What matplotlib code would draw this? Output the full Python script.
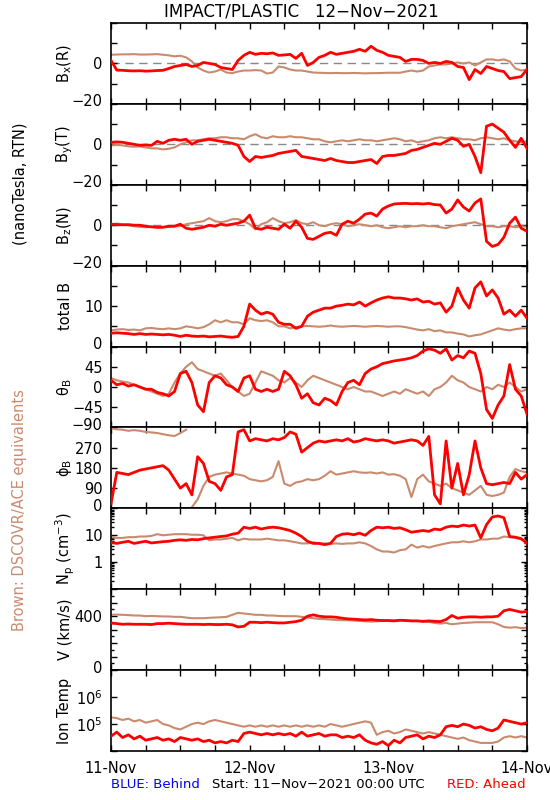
import numpy as np
import matplotlib
matplotlib.use("Agg")
import matplotlib.pyplot as plt
from matplotlib.ticker import FixedLocator, FixedFormatter, MultipleLocator, LogLocator, NullLocator
import matplotlib.transforms as mtransforms

plt.rcParams['font.family'] = ['DejaVu Sans']
plt.rcParams['mathtext.default'] = 'regular'

# ---------------- data (hourly, 11-Nov-2021 00:00 .. 14-Nov-2021 00:00) ----------------
hours = list(range(73))
day_labels = ["11-Nov", "12-Nov", "13-Nov", "14-Nov"]

bx_red = [1.5, -3.3, -3.4, -3.6, -3.7, -3.6, -3.8, -3.7, -3.5, -3.4,
          -2.5, -1.5, -1.0, -0.5, -1.5, -1.0, 0.5, 0.0, -0.5, -2.0,
          -2.5, -3.0, 1.5, 4.0, 5.5, 4.5, 5.0, 4.8, 5.2, 4.0,
          4.2, 4.5, 2.5, 5.0, -1.0, 0.5, 3.0, 4.0, 5.5, 4.5,
          5.0, 5.5, 6.0, 7.0, 6.0, 8.5, 6.5, 5.5, 4.0, 3.5,
          3.0, 1.0, 2.0, 2.0, 1.5, 0.0, 0.5, 0.0, 1.0, 0.5,
          -1.5, -2.0, -8.0, -3.0, -5.0, -1.5, -2.5, -3.5, -4.0, -7.5,
          -7.0, -6.5, -3.0]
bx_brown = [4.3, 4.4, 4.5, 4.5, 4.6, 4.4, 4.4, 4.5, 4.6, 4.3,
            4.0, 3.5, 3.8, 3.0, 1.0, -2.0, -3.5, -4.5, -4.0, -3.0,
            -4.5, -4.8, -4.0, -3.5, -3.5, -3.3, -3.5, -5.0, -4.5, -1.5,
            -2.0, -3.0, -3.5, -3.5, -4.0, -4.5, -4.6, -4.7, -4.8, -4.7,
            -4.8, -4.8, -4.7, -4.8, -4.9, -4.8, -4.8, -4.7, -4.6, -4.6,
            -4.6, -4.0, -3.5, -4.0, -3.5, -1.5, -1.0, -0.5, -0.5, 0.0,
            0.5, 0.0, 0.5, -1.0, 0.5, 2.0, 2.0, 1.5, 2.0, 1.0,
            -2.5, -3.5, -3.0]

by_red = [1.0, 1.2, 1.0, 0.5, 0.0, -0.5, -0.3, -0.5, 1.5, 0.5,
          2.0, 2.5, 2.0, 2.5, 0.0, 1.5, 2.0, 2.5, 2.0, 1.5,
          1.0, 0.5, -0.5, -6.0, -8.5, -6.0, -6.5, -6.0, -5.5, -4.5,
          -4.0, -3.5, -3.0, -6.0, -6.5, -7.0, -7.5, -8.0, -7.0, -8.0,
          -8.5, -9.0, -9.0, -8.5, -8.0, -7.5, -9.5, -6.0, -5.5, -5.5,
          -5.0, -4.5, -3.0, -2.5, -1.5, -0.5, 0.5, 0.0, 1.5, 3.0,
          2.0, -1.0, 0.0, -6.0, -14.0, 9.0, 10.0, 8.0, 6.0, 2.0,
          -1.5, 3.0, -2.0]
by_brown = [-0.5, -0.3, -0.5, -1.0, -1.2, -1.0, -1.5, -2.0, -2.0, -2.5,
            -2.2, -1.5, 0.0, 1.0, 2.0, 2.0, 2.5, 3.0, 3.0, 3.5,
            3.5, 3.0, 3.0, 2.5, 4.0, 5.0, 3.5, 3.0, 4.0, 3.5,
            3.5, 4.0, 3.5, 3.5, 3.0, 2.5, 2.5, 1.5, 1.0, 1.5,
            2.0, 1.5, 2.0, 2.5, 2.0, 2.0, 1.5, 2.0, 2.5, 3.0,
            2.5, 1.5, 2.0, 1.0, 1.5, 2.0, 3.0, 3.5, 3.0, 3.5,
            3.0, 2.5, 2.5, 2.0, 3.0, 3.5, 3.0, 2.5, 3.0, 2.0,
            1.5, 1.0, 1.5]

bz_red = [0.5, 0.3, 0.2, 0.3, 0.0, 0.0, -0.5, -0.8, -1.0, -1.0,
          -0.5, -0.5, 0.5, -1.5, -2.0, -1.5, -1.0, 0.0, -0.5, 0.5,
          0.0, 0.5, 1.0, 2.0, 5.0, -1.5, -2.0, -1.0, -1.5, -2.0,
          0.5, -1.5, 2.0, -1.0, -6.5, -7.0, -5.5, -4.0, -3.5, -5.0,
          0.5, 2.0, 1.0, 3.0, 5.5, 6.0, 4.5, 8.0, 9.5, 10.5,
          10.7, 10.8, 10.6, 10.7, 10.5, 10.8, 10.2, 10.0, 6.0, 8.0,
          12.5, 9.0, 7.0, 11.0, 13.0, -8.0, -10.5, -9.5, -6.0, 1.0,
          4.0, -1.5, -3.0]
bz_brown = [0.5, 0.8, 0.5, 0.0, -0.5, -0.8, -1.0, -0.8, -1.2, -1.0,
            -0.8, -0.5, -0.5, 0.5, 1.0, 1.5, 2.0, 3.5, 2.0, 1.5,
            2.0, 3.0, 3.0, 2.0, 0.5, -2.0, 0.5, 1.5, 3.5, 2.0,
            1.0, 1.5, 2.5, 1.0, 0.5, 1.5, 0.0, -0.5, 0.5, 1.0,
            0.5, -0.5, 0.0, 0.5, 0.0, -0.5, 0.0, -1.0, -1.5, -1.0,
            -0.5, -1.0, -0.5, -0.5, 0.0, -0.5, -0.5, -1.0, -1.5, -0.5,
            0.0, 0.5, 1.0, 1.5, 0.5, -0.5, -0.5, -1.0, -0.5, -0.5,
            -1.0, -0.5, -0.8]

bt_red = [3.3, 3.4, 3.3, 3.2, 3.0, 3.2, 3.0, 3.1, 3.0, 2.9,
          3.0, 2.8, 2.5, 2.8, 2.6, 2.5, 2.6, 2.4, 2.5, 2.6,
          2.4, 2.3, 2.5, 5.0, 10.5, 9.0, 8.0, 8.5, 8.0, 6.0,
          5.5, 5.5, 4.5, 5.0, 7.5, 8.5, 9.0, 9.5, 9.5, 10.0,
          10.2, 10.5, 10.3, 11.0, 10.0, 10.8, 11.5, 12.0, 12.3, 12.0,
          12.0, 11.8, 11.5, 11.8, 11.0, 11.2, 10.5, 10.8, 8.5, 10.0,
          14.5, 11.5, 9.5, 14.5, 16.0, 12.5, 14.0, 12.0, 8.0, 9.0,
          7.5, 9.0, 7.0]
bt_brown = [4.0, 4.2, 4.3, 4.1, 4.2, 4.0, 4.5, 4.6, 4.4, 4.3,
            4.5, 4.3, 4.5, 5.0, 4.8, 4.5, 4.8, 5.5, 6.5, 6.0,
            6.5, 6.0, 6.0, 5.5, 7.0, 6.5, 6.3, 6.5, 6.0, 5.0,
            5.0, 4.5, 4.8, 5.0, 5.1, 5.0, 4.9, 5.0, 5.2, 5.0,
            4.9, 5.0, 5.1, 5.0, 4.9, 5.0, 5.1, 5.0, 4.9, 5.0,
            5.0, 4.8, 4.5, 4.2, 4.0, 4.3, 3.8, 4.0, 3.5, 3.5,
            3.2, 3.0, 2.5, 2.8, 3.0, 3.5, 4.0, 4.5, 4.2, 4.0,
            4.3, 4.5, 4.5]

theta_red = [15, 5, 8, 2, 5, 0, -5, -5, -12, -15,
             -20, -10, 30, 35, 10, -40, -55, 10, 25, 20,
             5, 0, -10, 20, 25, -5, -10, -5, -10, -5,
             35, 25, 5, -25, -15, -35, -40, -25, -30, -40,
             -10, 10, 15, 5, 30, 40, 45, 52, 55, 58,
             60, 62, 65, 70, 80, 85, 82, 75, 85, 60,
             70, 65, 80, 75, 30, -50, -70, -40, -20, 50,
             -5, -20, -60]
theta_brown = [20, 15, 12, 10, 5, 0, -5, -10, -15, -20,
               -15, 10, 30, 45, 55, 40, 35, 30, 25, 30,
               15, 0, -10, -20, -15, 10, 35, 30, 25, 15,
               10, 20, 10, 0, 15, 25, 20, 15, 10, 5,
               0, -5, 0, -5, -10, -10, -15, -20, -15, -10,
               -15, -5, -10, -15, -10, -20, -5, 0, 10, 25,
               15, 10, 0, -5, -10, 0, -5, 5, 0, 10,
               0, -10, -5]

phi_red = [20, 160, 155, 150, 160, 170, 175, 180, 185, 190,
           170, 130, 90, 110, 60, 230, 200, 120, 110, 80,
           140, 150, 340, 350, 300, 310, 305, 300, 310, 305,
           315, 340, 330, 250, 270, 290, 300, 295, 300, 305,
           300, 310, 295, 300, 310, 305, 300, 305, 300, 290,
           295, 300, 305, 300, 280, 320, 60, 20, 300, 90,
           200, 60, 150, 300, 180, 110, 105, 110, 115, 110,
           160, 130, 150]
phi_brown = [355, 352, 350, 345, 348, 345, 340, 338, 335, 330,
             325, 322, 335, 350, 5, 40, 100, 140, 150, 155,
             160, 155, 150, 145, 130, 125, 120, 125, 140, 210,
             110, 100, 115, 120, 130, 125, 130, 145, 165, 150,
             155, 160, 165, 160, 158, 160, 155, 160, 150, 152,
             145, 130, 50, 130, 150, 120, 110, 100, 110, 90,
             80, 70, 60, 80, 100, 60, 55, 60, 70, 140,
             175, 165, 160]

np_red = [5.5, 5.0, 5.5, 6.0, 5.0, 5.5, 6.0, 5.2, 5.5, 5.8,
          6.0, 6.5, 6.8, 6.5, 7.0, 6.8, 7.5, 8.0, 8.5, 9.0,
          9.5, 11.0, 12.0, 20.0, 18.0, 20.0, 17.0, 19.0, 20.0, 19.0,
          17.0, 15.0, 12.0, 9.0, 6.0, 5.0, 5.0, 4.5, 5.0, 9.0,
          11.0, 11.5, 10.5, 12.0, 10.0, 15.0, 20.0, 19.0, 20.0, 18.0,
          19.0, 16.0, 13.0, 14.0, 15.0, 14.0, 17.0, 16.0, 20.0, 22.0,
          21.0, 24.0, 22.0, 24.0, 8.0, 25.0, 48.0, 52.0, 45.0, 9.0,
          8.5, 7.5, 5.0]
np_brown = [8.5, 8.0, 8.0, 8.5, 8.5, 9.0, 9.0, 9.5, 11.0, 10.0,
            10.5, 11.0, 11.0, 11.0, 10.5, 10.5, 10.0, 6.5, 7.0, 7.0,
            7.5, 8.0, 6.5, 7.5, 7.0, 7.0, 7.0, 7.5, 7.0, 6.5,
            6.5, 6.0, 5.5, 5.0, 5.0, 5.5, 5.0, 5.0, 4.8, 5.0,
            4.8, 5.0, 5.0, 5.5, 5.0, 4.0, 3.0, 2.5, 2.5, 2.3,
            2.8, 3.0, 4.5, 3.5, 4.0, 3.5, 4.0, 4.5, 5.0, 5.5,
            5.5, 6.0, 5.5, 6.0, 7.0, 7.0, 7.5, 7.5, 9.0, 8.5,
            8.0, 7.0, 6.0]

v_red = [350, 345, 340, 342, 340, 340, 340, 338, 345, 345,
         348, 345, 342, 340, 340, 340, 338, 340, 338, 338,
         340, 336, 320, 325, 355, 355, 352, 355, 352, 350,
         350, 355, 360, 370, 400, 410, 400, 395, 395, 392,
         385, 380, 378, 375, 372, 375, 370, 368, 368, 365,
         370, 368, 365, 365, 362, 365, 362, 360, 375, 405,
         385, 392, 395, 395, 392, 395, 395, 400, 440, 450,
         440, 430, 435]
v_brown = [410, 412, 410, 408, 405, 405, 400, 402, 400, 398,
           398, 395, 395, 390, 385, 385, 385, 388, 390, 392,
           395, 410, 425, 420, 415, 410, 410, 405, 405, 402,
           400, 400, 400, 395, 390, 385, 380, 378, 375, 372,
           370, 370, 368, 365, 362, 360, 362, 365, 365, 368,
           370, 368, 365, 365, 360, 358, 350, 345, 350, 340,
           345, 350, 352, 355, 355, 355, 355, 340, 320, 315,
           318, 312, 315]

temp_red_log10 = [4.55, 4.7, 4.5, 4.6, 4.45, 4.55, 4.4, 4.45, 4.5, 4.4,
                  4.45, 4.35, 4.5, 4.45, 4.4, 4.45, 4.35, 4.4, 4.3, 4.35,
                  4.3, 4.4, 4.35, 4.65, 4.7, 4.65, 4.6, 4.65, 4.6, 4.65,
                  4.6, 4.65, 4.55, 4.7, 4.55, 4.6, 4.65, 4.55, 4.6, 4.6,
                  4.5, 4.55, 4.5, 4.6, 4.4, 4.3, 4.25, 4.35, 4.2, 4.4,
                  4.3, 4.5, 4.55, 4.6, 4.45, 4.55, 4.5, 4.6, 4.9, 4.95,
                  4.9, 5.0, 4.95, 4.85, 4.9, 4.8, 4.75, 4.85, 5.15, 5.1,
                  5.05, 5.0, 5.05]
temp_brown_log10 = [5.25, 5.22, 5.15, 5.2, 5.1, 5.15, 5.05, 5.1, 5.15, 5.0,
                    4.95, 4.85, 4.8, 4.9, 5.0, 5.05, 5.0, 5.1, 5.15, 5.1,
                    5.05, 5.0, 4.95, 4.9, 4.95, 4.9, 4.95, 4.9, 4.95, 4.9,
                    4.95, 4.9, 4.95, 4.9, 4.95, 4.9, 4.95, 4.9, 5.0, 4.95,
                    4.9, 4.95, 5.0, 5.05, 5.1, 5.05, 4.6, 4.7, 4.75, 4.65,
                    4.7, 4.8, 4.75, 4.7, 4.65, 4.7, 4.65, 4.6, 4.55, 4.5,
                    4.45, 4.5, 4.4, 4.35, 4.3, 4.3, 4.3, 4.35, 4.5, 4.55,
                    4.5, 4.55, 4.5]

# ---------------- styling ----------------
RED = '#FF0000'
BROWN = '#C98A6E'
W, H = 550, 800
fig = plt.figure(figsize=(5.5, 8.0), dpi=100)

left_px, right_px = 111, 527
top_px, bottom_px = 23, 751
n = 9
ph = (bottom_px - top_px) / n


def px_axes(i):
    y_top = top_px + i * ph
    return [left_px / W, 1 - (y_top + ph) / H, (right_px - left_px) / W, ph / H]


def break_wraps(vals):
    out = np.array(vals, dtype=float)
    x = np.array(hours, dtype=float)
    xs, ys = [x[0]], [out[0]]
    for k in range(1, len(out)):
        if abs(out[k] - out[k - 1]) > 180:
            xs.append(np.nan); ys.append(np.nan)
        xs.append(x[k]); ys.append(out[k])
    return xs, ys


panels = [
    dict(label=r'B$_x$(R)', red=bx_red, brown=bx_brown, ylim=(-20, 20),
         ticks=[-20, -10, 0, 10, 20], labels=['\u221220', '', '0', '', ''], zero=True),
    dict(label=r'B$_y$(T)', red=by_red, brown=by_brown, ylim=(-20, 20),
         ticks=[-20, -10, 0, 10, 20], labels=['\u221220', '', '0', '', ''], zero=True),
    dict(label=r'B$_z$(N)', red=bz_red, brown=bz_brown, ylim=(-20, 20),
         ticks=[-20, -10, 0, 10, 20], labels=['\u221220', '', '0', '', ''], zero=True),
    dict(label='total B', red=bt_red, brown=bt_brown, ylim=(0, 20),
         ticks=[0, 5, 10, 15, 20], labels=['0', '', '10', '', '']),
    dict(label=r'$\theta_B$', red=theta_red, brown=theta_brown, ylim=(-90, 90),
         ticks=[-90, -45, 0, 45, 90], labels=['\u221290', '\u221245', '0', '45', '']),
    dict(label=r'$\phi_B$', red=phi_red, brown=phi_brown, ylim=(0, 360),
         ticks=[0, 90, 180, 270, 360], labels=['0', '90', '180', '270', ''], wrap=True),
    dict(label=r'N$_p$ (cm$^{-3}$)', red=np_red, brown=np_brown, ylim=(0.1, 100), log=True,
         ticks=[0.1, 1, 10, 100], labels=['', '1', '10', '']),
    dict(label='V (km/s)', red=v_red, brown=v_brown, ylim=(0, 600),
         ticks=[0, 100, 200, 300, 400, 500, 600], labels=['0', '', '', '', '400', '', ''], minor=50),
    dict(label='Ion Temp', red=[10 ** v for v in temp_red_log10],
         brown=[10 ** v for v in temp_brown_log10], ylim=(1e4, 1e7), log=True,
         ticks=[1e4, 1e5, 1e6, 1e7], labels=['', '10$^5$', '10$^6$', ''], nominor=True),
]

axes = []
for i, p in enumerate(panels):
    ax = fig.add_axes(px_axes(i))
    axes.append(ax)
    if p.get('log'):
        ax.set_yscale('log')
    if p.get('zero'):
        ax.axhline(0, color='#888888', lw=1.0, ls=(0, (6, 4)), zorder=1)
    if p.get('wrap'):
        bx_, by_ = break_wraps(p['brown'])
        ax.plot(bx_, by_, color=BROWN, lw=1.5, zorder=2)
    else:
        ax.plot(hours, p['brown'], color=BROWN, lw=1.5, zorder=2)
    ax.plot(hours, p['red'], color=RED, lw=2.0, zorder=3)
    ax.set_xlim(0, 72)
    ax.set_ylim(*p['ylim'])
    ax.yaxis.set_major_locator(FixedLocator(p['ticks']))
    ax.yaxis.set_major_formatter(FixedFormatter(p['labels']))
    if p.get('log') and not p.get('nominor'):
        ax.yaxis.set_minor_locator(LogLocator(base=10, subs=np.arange(2, 10)))
    elif p.get('minor'):
        ax.yaxis.set_minor_locator(MultipleLocator(p['minor']))
    else:
        ax.yaxis.set_minor_locator(NullLocator())
    ax.xaxis.set_major_locator(MultipleLocator(24))
    ax.xaxis.set_minor_locator(MultipleLocator(6))
    ax.tick_params(axis='both', which='both', direction='in', top=True, right=True,
                   width=1.0, labelsize=10.5, pad=6)
    ax.tick_params(axis='both', which='major', length=4)
    ax.tick_params(axis='both', which='minor', length=4)
    ax.tick_params(axis='y', which='minor', length=2.5)
    for s in ax.spines.values():
        s.set_linewidth(1.2)
    if i < n - 1:
        ax.set_xticklabels([])
    else:
        ax.xaxis.set_major_formatter(FixedFormatter(day_labels))
        ax.xaxis.set_major_locator(FixedLocator([0, 24, 48, 72]))
        ax.tick_params(axis='x', which='major', labelsize=10.5, pad=7)
    # shift bottom y tick label up slightly
    fig.canvas.draw()
    ylab = ax.get_yticklabels()
    if ylab:
        off = mtransforms.ScaledTranslation(0, 3.5 / 100, fig.dpi_scale_trans)
        ylab[0].set_transform(ylab[0].get_transform() + off)
    yc = 1 - (top_px + (i + 0.5) * ph) / H
    fig.text(65 / W, yc, p['label'], rotation=90, ha='center', va='center', fontsize=10.5)

fig.text(301 / W, 1 - 12 / H, 'IMPACT/PLASTIC   12\u2212Nov\u22122021', ha='center', va='center', fontsize=12)
fig.text(20 / W, 1 - 184 / H, '(nanoTesla, RTN)', rotation=90, ha='center', va='center', fontsize=10.5)
fig.text(20 / W, 1 - 510 / H, 'Brown: DSCOVR/ACE equivalents', rotation=90, ha='center', va='center',
         fontsize=10.5, color=BROWN)
fig.text(111 / W, 1 - 784 / H, 'BLUE: Behind', ha='left', va='center', fontsize=9.5, color='#0000FF')
fig.text(318 / W, 1 - 784 / H, 'Start: 11\u2212Nov\u22122021 00:00 UTC', ha='center', va='center', fontsize=9.5)
fig.text(526 / W, 1 - 784 / H, 'RED: Ahead', ha='right', va='center', fontsize=9.5, color=RED)

fig.savefig('out.png', dpi=100)
